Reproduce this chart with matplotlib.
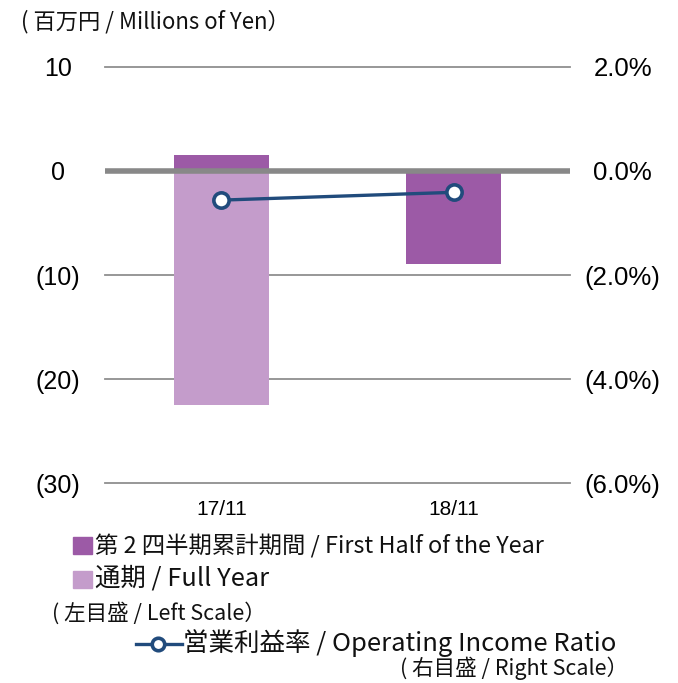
import matplotlib
matplotlib.use("Agg")
import matplotlib.pyplot as plt
from matplotlib.patches import Rectangle
from matplotlib.lines import Line2D

plt.rcParams['font.family'] = ['Noto Sans CJK JP', 'DejaVu Sans']

categories = ["17/11", "18/11"]
first_half = [1.5, -8.9]          # millions of yen
full_year = [-22.5, None]         # millions of yen
op_ratio = [-0.56, -0.41]         # percent

left_ticks = [10, 0, -10, -20, -30]
left_labels = ["10", "0", "(10)", "(20)", "(30)"]
right_ticks = [2.0, 0.0, -2.0, -4.0, -6.0]
right_labels = ["2.0%", "0.0%", "(2.0%)", "(4.0%)", "(6.0%)"]

dark = "#9c5aa6"
light = "#c49ccb"
navy = "#214b7c"
grid_c = "#8f8f8f"
txt_c = "#111111"

W, H = 678, 683
fig = plt.figure(figsize=(W / 100, H / 100), dpi=100)
ax = fig.add_axes([105 / W, 1 - 483 / H, 465 / W, 416 / H])
ax2 = ax.twinx()

x = list(range(len(categories)))
bw = 0.41
fy_x = [i for i, v in zip(x, full_year) if v is not None]
fy_v = [v for v in full_year if v is not None]
ax.bar(fy_x, fy_v, width=bw, color=light, zorder=2)
ax.bar(x, first_half, width=bw, color=dark, zorder=2)

ax.set_xlim(-0.5, 1.5)
ax.set_ylim(-30, 10)
ax2.set_ylim(-6, 2)

ax.set_yticks(left_ticks)
ax.set_yticklabels(left_labels, family="Liberation Sans", fontsize=18, ha="center")
ax.tick_params(axis="y", length=0, pad=34)
ax2.set_yticks(right_ticks)
ax2.set_yticklabels(right_labels, family="Liberation Sans", fontsize=18.5, ha="center")
ax2.tick_params(axis="y", length=0, pad=38)

ax.set_xticks(x)
ax.set_xticklabels(categories, family="Liberation Sans", fontsize=15)
ax.tick_params(axis="x", length=0, pad=12)

for a in (ax, ax2):
    for s in a.spines.values():
        s.set_visible(False)

for t in left_ticks:
    if t == 0:
        continue
    ax.axhline(t, color=grid_c, lw=1.3, zorder=1, clip_on=False)
ax.axhline(0, color="#888888", lw=4, zorder=3)

ax2.plot(x, op_ratio, color=navy, lw=2.4, marker="o", markersize=11,
         markerfacecolor="white", markeredgecolor=navy, markeredgewidth=2.6,
         zorder=5)


def fx(px):
    return px / W


def fyy(py):
    return 1 - py / H


# unit caption
fig.text(fx(21), fyy(22), "( 百万円 / Millions of Yen）", fontsize=16,
         va="center", ha="left", color=txt_c)

# legend, drawn in figure pixel space
fig.add_artist(Rectangle((fx(73), fyy(554)), 19 / W, 17 / H, color=dark,
                         transform=fig.transFigure))
fig.text(fx(95), fyy(546), "第 2 四半期累計期間 / First Half of the Year",
         fontsize=16.8, va="center", ha="left", color=txt_c)
fig.add_artist(Rectangle((fx(73), fyy(588)), 19 / W, 17 / H, color=light,
                         transform=fig.transFigure))
fig.text(fx(95), fyy(579), "通期 / Full Year",
         fontsize=18.3, va="center", ha="left", color=txt_c)
fig.text(fx(52), fyy(613), "( 左目盛 / Left Scale）",
         fontsize=15.5, va="center", ha="left", color=txt_c)

fig.add_artist(Line2D([fx(136), fx(182)], [fyy(644), fyy(644)], color=navy,
                      lw=2.4, transform=fig.transFigure))
fig.add_artist(Line2D([fx(158)], [fyy(644)], color=navy, marker="o",
                      markersize=9, markerfacecolor="white",
                      markeredgecolor=navy, markeredgewidth=2.6,
                      transform=fig.transFigure))
fig.text(fx(183), fyy(643), "営業利益率 / Operating Income Ratio",
         fontsize=18.4, va="center", ha="left", color=txt_c)
fig.text(fx(400), fyy(668), "( 右目盛 / Right Scale）",
         fontsize=15.5, va="center", ha="left", color=txt_c)

fig.savefig("out.png", dpi=100)
